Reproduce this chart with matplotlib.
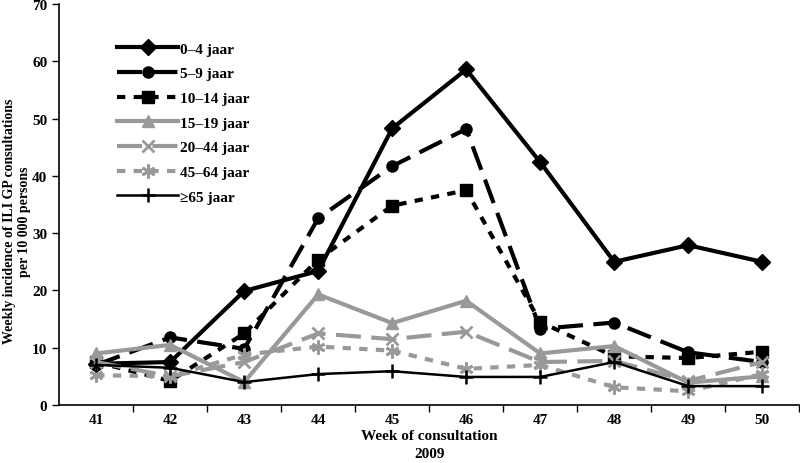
import numpy as np
import matplotlib
matplotlib.use("Agg")
import matplotlib.pyplot as plt

plt.rcParams['font.family'] = ['Liberation Serif', 'DejaVu Serif']
plt.rcParams['font.weight'] = 'bold'

# weken en incidentie per leeftijdsgroep
weeks = [41, 42, 43, 44, 45, 46, 47, 48, 49, 50]
a0_4 = [7.2, 7.5, 19.9, 23.4, 48.3, 58.6, 42.4, 25.0, 27.9, 25.0]
a5_9 = [7.0, 11.8, 9.8, 32.6, 41.7, 48.2, 13.3, 14.4, 9.2, 7.5]
a10_14 = [7.5, 4.2, 12.5, 25.4, 34.8, 37.5, 14.5, 8.5, 8.2, 9.3]
a15_19 = [9.0, 10.5, 4.0, 19.3, 14.3, 18.2, 9.0, 10.3, 3.9, 5.0]
a20_44 = [7.5, 5.0, 7.5, 12.5, 11.5, 12.8, 7.5, 7.7, 4.2, 7.5]
a45_64 = [5.2, 5.0, 8.8, 10.2, 9.5, 6.3, 7.0, 3.1, 2.4, 5.4]
a65 = [7.0, 6.5, 4.0, 5.4, 5.9, 4.9, 4.9, 7.5, 3.3, 3.3]
labels = ['0\u20134 jaar', '5\u20139 jaar', '10\u201314 jaar', '15\u201319 jaar',
          '20\u201344 jaar', '45\u201364 jaar', '\u226565 jaar']

grey = '#999999'
fig = plt.figure(figsize=(8, 4.64), dpi=100)
ax = fig.add_axes([0.074, 0.125, 0.925, 0.864])

x = np.array(weeks)
ax.plot(x, a0_4, color='black', lw=3, marker='D', ms=8, label=labels[0])
ax.plot(x, a5_9, color='black', lw=3, ls=(0, (6, 2.5)), marker='o', ms=8, label=labels[1])
ax.plot(x, a10_14, color='black', lw=3, ls=(0, (2, 2)), marker='s', ms=8, label=labels[2])
ax.plot(x, a15_19, color=grey, lw=3, marker='^', ms=9, label=labels[3])
ax.plot(x, a20_44, color=grey, lw=3, ls=(0, (6, 2.5)), marker='x', ms=9, mew=2, label=labels[4])
ax.plot(x, a45_64, color=grey, lw=3, ls=(0, (2, 2)), marker=(6, 2, 0), ms=10, mew=2, label=labels[5])
ax.plot(x, a65, color='black', lw=1.8, marker='+', ms=10, mew=1.8, label=labels[6])

ax.set_xlim(40.5, 50.5)
ax.set_ylim(0, 70)
ax.set_yticks(range(0, 71, 10))
ax.set_xticks(weeks)
ax.set_xticks(np.arange(41.5, 50.6, 1), minor=True)
ax.tick_params(axis='x', which='major', length=0, labelsize=11, pad=6)
ax.tick_params(axis='x', which='minor', length=5, width=1)
ax.tick_params(axis='y', length=5, width=1, labelsize=11)
ax.spines['top'].set_visible(False)
ax.spines['right'].set_visible(False)
ax.spines['left'].set_linewidth(1.2)
ax.spines['bottom'].set_linewidth(1.2)

ax.set_xlabel('Week of consultation\n2009', fontsize=11, fontweight='bold',
              labelpad=2, linespacing=1.5)
fig.text(17 / 800, 0.522, 'Weekly incidence of ILI GP consultations\nper 10 000 persons',
         rotation=90, ha='center', va='center', fontsize=10, fontweight='bold',
         linespacing=1.25)

ax.legend(loc='upper left', bbox_to_anchor=(0.06, 0.94), frameon=False,
          handlelength=4, fontsize=11, labelspacing=0.72, handletextpad=0.1)

fig.savefig('out.png', dpi=100)
